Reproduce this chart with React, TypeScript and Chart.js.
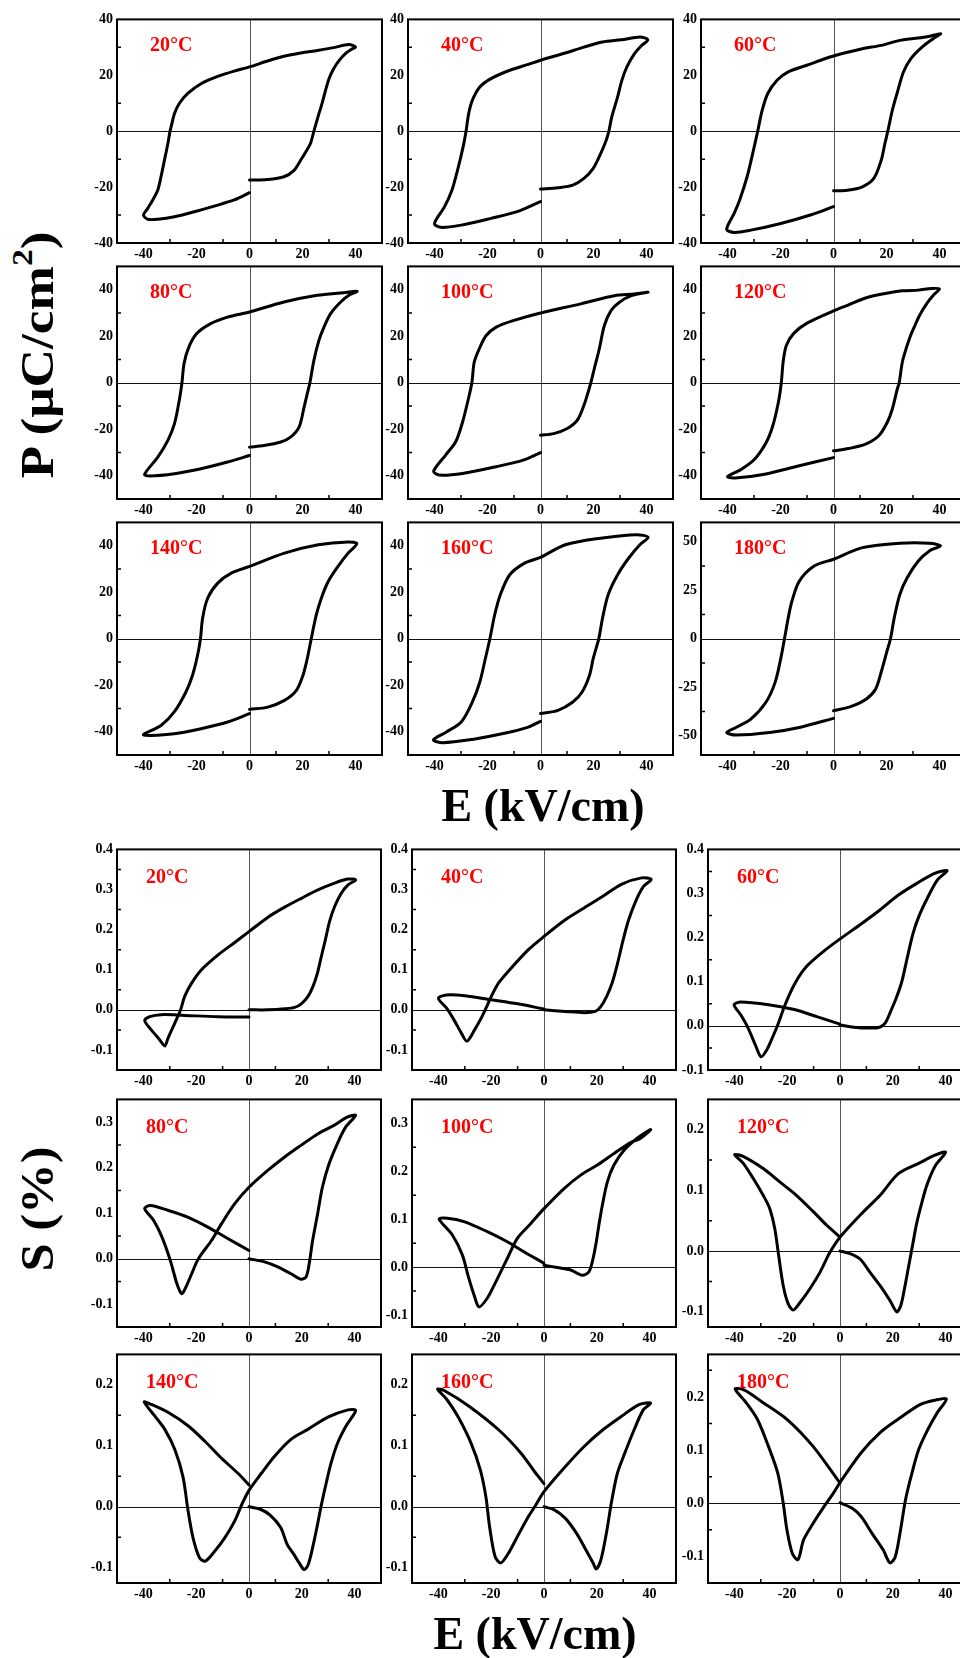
import React, { useEffect, useRef } from "react";
import { Chart, registerables } from "chart.js";
Chart.register(...registerables);

// ---------- tick labels ----------
const E_TICKS = [-40, -20, 0, 20, 40];
const P_TICKS = [-40, -20, 0, 20, 40];
const P180_TICKS = [-50, -25, 0, 25, 50];
const S_TICKS_04 = [-0.1, 0, 0.1, 0.2, 0.3, 0.4];
const S_TICKS_03 = [-0.1, 0, 0.1, 0.2, 0.3];
const S_TICKS_02 = [-0.1, 0, 0.1, 0.2];

const TEMPS = ["20°C", "40°C", "60°C", "80°C", "100°C", "120°C", "140°C", "160°C", "180°C"];

// y-axis limits per panel
const P_RANGES = [[-40, 40], [-40, 40], [-40, 40], [-50, 50], [-50, 50], [-50, 50], [-50, 50], [-50, 50], [-60, 60]];
const P_TICK_SETS = [P_TICKS, P_TICKS, P_TICKS, P_TICKS, P_TICKS, P_TICKS, P_TICKS, P_TICKS, P180_TICKS];
const S_RANGES = [[-0.15, 0.4], [-0.15, 0.4], [-0.1, 0.4], [-0.15, 0.35], [-0.125, 0.35], [-0.125, 0.25], [-0.125, 0.25], [-0.125, 0.25], [-0.15, 0.28]];
const S_TICK_SETS = [S_TICKS_04, S_TICKS_04, S_TICKS_04, S_TICKS_03, S_TICKS_03, S_TICKS_02, S_TICKS_02, S_TICKS_02, S_TICKS_02];

// ---------- P-E loops [E (kV/cm), P (uC/cm2)] ----------
const P20 = [[0,-17.5],[6.8,-17.3],[13,-16.3],[16.8,-14],[19.3,-10.4],[21.5,-7],[23,-4.4],[24.3,0],[26.2,6.3],[27,8.7],[28.7,14.6],[30,18.8],[31.8,22.4],[34,25.5],[36.5,28],[38.5,29.3],[40,30.1],
[37.5,31],[31.8,29.9],[25.6,28.9],[19.3,28],[13,26.8],[6.8,25.1],[0,23],[-5.8,21.5],[-12,19.6],[-18.3,17],[-23.3,13.5],[-26.5,9.9],[-28.3,6.3],[-29.6,1.5],[-30,0],[-30.8,-4.4],[-32.1,-10.4],[-33.4,-16.3],[-34.6,-21],[-36.5,-24.6],[-38.4,-27.6],[-40,-30],
[-38.4,-31.5],[-34.6,-31.5],[-28.3,-30.6],[-20.8,-28.8],[-13.3,-26.8],[-5.8,-24.6],[0,-22]];
const P40 = [[0,-20.7],[6.6,-20.2],[12.2,-19.3],[16.4,-16.9],[19.9,-13.3],[22.7,-8],[24.8,-3.2],[25.8,0],[26.9,5.1],[29.1,12.3],[30.7,18.2],[32.6,23],[35.4,27.7],[38.2,30.7],[40.5,32.7],
[37.5,33.7],[30.5,32.7],[23.4,31.9],[16.4,30.1],[9.4,28],[0,25.4],[-4.6,23.9],[-11.6,21.8],[-18.7,18.8],[-22.9,15.8],[-25.7,11.1],[-27.1,6.3],[-28.1,0],[-29.2,-5.6],[-31.3,-13.9],[-33.4,-21],[-36.2,-27],[-40,-33],
[-37.6,-34.4],[-29.9,-33.6],[-18.7,-31.2],[-8.8,-28.8],[0,-25.2]];
const P60 = [[0,-21.3],[5.3,-21.1],[10.9,-19.9],[15.2,-16.9],[18,-10.4],[19.4,-4.4],[20.5,0],[22.2,7.5],[24.3,14.6],[26.4,21.2],[29.2,26],[33.4,30.1],[37.6,33.1],[40.4,34.9],
[34.8,33.7],[25,32.5],[18,30.7],[10.9,29.5],[0,26.9],[-10.1,23.6],[-17.1,21.2],[-21.3,18.2],[-24.8,13.5],[-26.9,7.5],[-28.6,0],[-30.5,-8],[-32.6,-16.3],[-35.4,-24.6],[-37.5,-29.4],[-40.3,-35.1],
[-37.5,-36.2],[-31.2,-35.4],[-19.9,-33],[-8.7,-30],[0,-27]];
const P80 = [[0,-27.7],[5.5,-27],[11.8,-25.5],[15.5,-23.4],[18.7,-19.1],[20.6,-10.5],[21.8,-4.7],[22.8,0],[24.3,9.6],[26.2,18.2],[28.1,23.9],[30.6,29.7],[34.4,34.7],[37.5,37.6],[40.6,39.3],
[35.6,38.7],[25.6,37.6],[13,34.7],[0,30.4],[-8.3,28.2],[-15,25.2],[-20,21],[-23,15],[-24.7,8.2],[-25.5,0],[-26.5,-7.6],[-28.3,-17.6],[-30.8,-24.8],[-34.6,-32],[-39.6,-39.4],
[-37.7,-40.1],[-28.3,-39.1],[-18.3,-37],[-8.3,-34.1],[0,-31.3]];
const P100 = [[0,-22.6],[5,-21.9],[10.1,-19.7],[13.9,-16.1],[16.4,-9.7],[18,-4],[19,0],[20.3,6],[22.2,14.6],[24.1,24.6],[26.6,31],[29.8,34.6],[34.3,37.4],[40.6,38.9],
[35.5,38.1],[27.9,37.4],[15.2,33.9],[0,30],[-10.3,26.7],[-16.7,23.9],[-20.5,20.3],[-23.1,14.6],[-25,8.9],[-25.9,0],[-27.5,-8.3],[-29.4,-16.9],[-32,-25.4],[-35.8,-31.1],[-40.3,-38],
[-38.3,-39.7],[-29.4,-39],[-16.7,-36.1],[-6.5,-33.3],[0,-30.1]];
const P120 = [[0,-29.3],[5.7,-28.3],[12.1,-26.4],[17.1,-22.8],[20.3,-17],[22.2,-11.3],[24.1,-2.6],[24.8,0],[26,9],[27.5,15],[29,20],[30.5,24],[32.5,29],[35.5,34.5],[38,38],[40,40.3],
[37,40.5],[32,39.8],[26,39.5],[18.4,38.1],[12.1,36.4],[5.7,33.5],[0,30.9],[-10,25.6],[-15,21.2],[-17.8,16],[-19,9],[-19.7,0],[-20.8,-8.4],[-22.9,-18.5],[-25.4,-25.7],[-29.8,-32.9],[-34.9,-37.3],[-40,-40.4],
[-36.2,-40.9],[-26,-39.4],[-13.3,-35.8],[0,-32.2]];
const P140 = [[0,-30.4],[6.9,-29.4],[13.2,-26.5],[17.7,-22.2],[20.2,-15.7],[21.8,-8.5],[23.3,0],[25.2,10.2],[27.1,17.4],[29.7,24.6],[33.4,31.1],[37.2,36.8],[40.5,40.8],
[37.2,41.6],[25.9,40.4],[13.2,36.8],[0,31.1],[-6.9,28.2],[-12,23.9],[-15.8,17.4],[-17.7,8.8],[-18.5,0],[-19.6,-7.1],[-21.5,-15.7],[-24,-22.9],[-28.4,-31.5],[-33.4,-37.3],[-40,-41.2],
[-37.2,-41.6],[-28.4,-40.9],[-18.3,-38.7],[-8.2,-35.8],[0,-32.2]];
const P160 = [[0,-32.2],[6.6,-30.8],[12.2,-27.2],[15.7,-22.9],[18.5,-15.7],[19.9,-8.5],[22,0],[23.4,8.8],[25.5,18.8],[29.1,27.5],[33.3,34.7],[37.5,40.4],[40.6,43.6],
[36.1,44.7],[23.4,43.3],[9.4,40.4],[0,35],[-6,32.5],[-11.6,27.5],[-15.2,18.8],[-17.3,10.2],[-19.1,0],[-20.8,-8.5],[-22.9,-18.6],[-25.7,-27.2],[-29.9,-35.8],[-35.5,-40.1],[-40.4,-43.5],
[-36.9,-44.7],[-25.7,-43.3],[-14.5,-40.9],[-4.6,-38],[0,-35.5]];
const P180 = [[0,-37.2],[6.7,-34.9],[12.4,-31.1],[15.9,-25.9],[18,-17.2],[20.1,-6.8],[21.5,0],[22.9,10.6],[25,22.7],[27.8,31.4],[32,40.1],[36.2,45.3],[40.4,47.9],
[36.2,49.3],[25,49.3],[10.9,47],[0,41],[-7.3,37.5],[-12.9,29.7],[-15.7,19.3],[-17.1,10.6],[-18.5,0],[-19.9,-10.2],[-22,-22.4],[-25.5,-32.8],[-31.2,-41.5],[-36.8,-45.8],[-40.3,-48.4],
[-36.8,-49.7],[-24.1,-48.4],[-12.9,-45.8],[0,-41.1]];

// ---------- S-E loops [E (kV/cm), S (%)] ----------
const S20 = [[0,0],[7.2,0],[13.5,0.0025],[17.3,0.006],[19.8,0.015],[22.3,0.033],[24.2,0.058],[25.9,0.091],[27.4,0.133],[28.9,0.174],[30.5,0.22],[32.4,0.257],[34.9,0.29],[37.4,0.311],[40.4,0.324],
[37.4,0.326],[32.4,0.316],[26.1,0.299],[19.8,0.278],[13.5,0.256],[7.2,0.231],[0,0.195],[-5.4,0.168],[-11.7,0.137],[-18,0.1],[-21.8,0.066],[-24.4,0.033],[-25.9,0],[-28.1,-0.033],[-30.7,-0.071],[-31.9,-0.09],[-33.8,-0.075],[-37,-0.05],[-39.5,-0.027],
[-37.6,-0.017],[-33.2,-0.012],[-24.4,-0.014],[-11.7,-0.017],[0,-0.018]];
const S40 = [[0,0],[8.2,-0.004],[15.2,-0.007],[19.4,-0.004],[21.5,0.008],[23.7,0.033],[25.8,0.067],[27.9,0.117],[30,0.175],[32.1,0.225],[35,0.275],[37.7,0.308],[40.6,0.325],
[37,0.329],[29.3,0.313],[22.3,0.283],[15.2,0.254],[8.2,0.225],[0,0.183],[-5.9,0.15],[-13,0.1],[-17.2,0.067],[-20,0.033],[-21.4,0.0125],[-23.5,-0.017],[-26.3,-0.05],[-29.2,-0.078],[-31.3,-0.058],[-34.1,-0.025],[-36.9,0.004],[-40,0.029],
[-36.9,0.037],[-29.9,0.035],[-20,0.025],[-10.1,0.015],[0,0.002]];
const S60 = [[0,0.002],[5.2,-0.003],[10.8,-0.005],[15,-0.003],[17.1,0.006],[19.2,0.033],[21.3,0.063],[23.4,0.1],[25.5,0.155],[27.6,0.208],[29.8,0.247],[33.3,0.292],[36.8,0.33],[40.6,0.352],
[36.1,0.346],[29.1,0.323],[22,0.296],[15,0.262],[8,0.231],[0,0.197],[-6,0.17],[-13.1,0.132],[-17.3,0.094],[-20.8,0.048],[-23.6,0.002],[-25.7,-0.028],[-27.8,-0.055],[-29.9,-0.07],[-32,-0.044],[-34.8,-0.005],[-37.6,0.025],[-40.1,0.048],
[-37.6,0.054],[-27.1,0.048],[-17.3,0.037],[-8.8,0.021],[0,0.004]];
const S80 = [[0,0],[5.9,-0.007],[10.9,-0.018],[15.9,-0.033],[19.7,-0.045],[21.6,-0.04],[22.8,-0.011],[24.1,0.04],[26,0.099],[27.8,0.157],[30.3,0.208],[33.4,0.252],[36.6,0.289],[40.4,0.315],
[37.2,0.311],[32.2,0.293],[26,0.274],[19.7,0.249],[13.4,0.223],[7.1,0.194],[0,0.157],[-5.4,0.121],[-10.4,0.077],[-14.2,0.04],[-17.9,0.011],[-19.8,-0.007],[-21.7,-0.033],[-24.2,-0.066],[-25.5,-0.077],[-27.3,-0.055],[-29.8,-0.004],[-33,0.048],[-36.1,0.084],[-39.5,0.11],
[-37.4,0.117],[-30.5,0.106],[-23,0.091],[-15.4,0.069],[-7.9,0.044],[0,0.018]];
const S100 = [[0,0.004],[5,-0.001],[10.1,-0.006],[14.5,-0.017],[17,-0.01],[18.3,0.011],[19.6,0.046],[20.8,0.088],[22.1,0.129],[24,0.178],[26.5,0.213],[30.3,0.244],[35.3,0.269],[40.4,0.287],
[36.6,0.269],[32.8,0.26],[26.5,0.237],[20.2,0.213],[13.9,0.192],[7.6,0.164],[0,0.122],[-5,0.091],[-10.1,0.06],[-13.9,0.018],[-16.4,-0.01],[-18.9,-0.038],[-21.5,-0.065],[-24.6,-0.083],[-26.5,-0.058],[-28.8,-0.017],[-30.9,0.025],[-34.7,0.067],[-39.7,0.1],
[-36.6,0.102],[-30.3,0.095],[-21.5,0.074],[-13.9,0.053],[-7.6,0.032],[0,0.008]];
const S120 = [[0,0],[3.8,-0.004],[7.6,-0.013],[11.4,-0.035],[15.2,-0.057],[19,-0.082],[21.5,-0.1],[23,-0.09],[24.5,-0.06],[26,-0.025],[27.5,0.01],[29,0.045],[31,0.08],[33,0.11],[36,0.14],[40,0.163],
[36,0.158],[30,0.145],[22.2,0.128],[15.2,0.092],[8.9,0.065],[0,0.023],[-3.8,-0.002],[-7.6,-0.035],[-11.4,-0.062],[-15.2,-0.085],[-17.7,-0.097],[-19.6,-0.087],[-21.5,-0.057],[-23.4,-0.002],[-24.7,0.037],[-26.6,0.07],[-29.1,0.092],[-32.9,0.12],[-36.7,0.145],[-39.9,0.159],
[-36.7,0.156],[-29.1,0.136],[-22.8,0.114],[-16.5,0.092],[-10.1,0.065],[-5.1,0.043],[0,0.023]];
const S140 = [[0,0],[4.3,-0.004],[8.1,-0.014],[12,-0.034],[14.5,-0.062],[17,-0.078],[19,-0.092],[20.9,-0.103],[22.4,-0.095],[24.1,-0.067],[26,-0.028],[27.5,0.005],[29.2,0.038],[31.1,0.072],[33.6,0.105],[36.8,0.133],[40.4,0.158],
[37.5,0.159],[29.9,0.147],[22.3,0.127],[16,0.111],[9.7,0.083],[4.7,0.055],[0,0.027],[-2.6,0.005],[-5.4,-0.023],[-9.2,-0.051],[-13,-0.073],[-16.5,-0.089],[-18.7,-0.084],[-21.2,-0.051],[-23.1,-0.006],[-25,0.049],[-28.1,0.094],[-31.9,0.127],[-35.7,0.149],[-39.7,0.172],
[-37.6,0.169],[-30.7,0.155],[-23.1,0.133],[-16.8,0.108],[-10.5,0.08],[-4.2,0.055],[0,0.036]];
const S160 = [[0,0],[3.9,-0.005],[8.1,-0.019],[12.4,-0.044],[15.9,-0.071],[18.7,-0.093],[19.8,-0.102],[21.5,-0.088],[23.6,-0.044],[25.7,0.011],[27.8,0.055],[30.6,0.088],[34.1,0.126],[37.6,0.159],[40.4,0.17],
[36.2,0.168],[29.2,0.148],[22.2,0.126],[15.2,0.099],[8.1,0.066],[0,0.025],[-3.1,0.003],[-5.9,-0.016],[-10.1,-0.049],[-13.6,-0.077],[-16.4,-0.092],[-18.5,-0.082],[-20.6,-0.033],[-22,0.016],[-24.1,0.06],[-27.6,0.104],[-32.6,0.148],[-36.8,0.176],[-40.3,0.193],
[-37.5,0.19],[-28.4,0.165],[-17.1,0.126],[-8.7,0.088],[-3.1,0.055],[0,0.038]];
const S180 = [[0,0.001],[4.5,-0.009],[8,-0.025],[12.2,-0.057],[16.4,-0.088],[18.9,-0.112],[20.9,-0.101],[22.7,-0.057],[24.8,0.006],[26.9,0.05],[29.8,0.101],[33.3,0.139],[36.8,0.17],[40.3,0.196],
[36.1,0.194],[30.5,0.186],[22,0.158],[15,0.132],[8,0.095],[0,0.039],[-2.5,0.019],[-6,-0.006],[-10.2,-0.038],[-13.8,-0.069],[-15.9,-0.106],[-18,-0.095],[-20.1,-0.05],[-21.5,0],[-23.6,0.057],[-27.1,0.107],[-31.3,0.158],[-35.5,0.189],[-39.7,0.215],
[-36.2,0.213],[-29.9,0.192],[-20.1,0.158],[-10.2,0.107],[0,0.038]];

const P_SERIES = [P20, P40, P60, P80, P100, P120, P140, P160, P180];
const S_SERIES = [S20, S40, S60, S80, S100, S120, S140, S160, S180];

// ---------- layout (page pixels) ----------
const P_COL_X = [117, 408, 701];
const P_ROW_Y = [19, 266, 522];
const P_ROW_H = [224, 233, 233];
const P_W = 265;
const S_COL_X = [117, 412, 708];
const S_ROW_Y = [849, 1099, 1354];
const S_ROW_H = [221, 228, 229];
const S_W = 264;

const PAD_L = 50, PAD_T = 12, PAD_R = 12, PAD_B = 28;
const SERIF = '"Liberation Serif", "Times New Roman", serif';

function minorTicks(majors: number[], min: number, max: number) {
  const step = majors[1] - majors[0];
  const out: number[] = [];
  for (let v = majors[0] - step / 2; v < max - 1e-9; v += step) {
    if (v > min + 1e-9) out.push(v);
  }
  return out;
}

const decoPlugin = {
  id: "deco",
  beforeDatasetsDraw(chart: any) {
    const { ctx, chartArea: a, scales } = chart;
    const x0 = Math.round(scales.x.getPixelForValue(0)) + 0.5;
    const y0 = Math.round(scales.y.getPixelForValue(0)) + 0.5;
    ctx.save();
    ctx.lineWidth = 1;
    ctx.strokeStyle = "#555";
    ctx.beginPath(); ctx.moveTo(x0, a.top); ctx.lineTo(x0, a.bottom); ctx.stroke();
    ctx.strokeStyle = "#111";
    ctx.beginPath(); ctx.moveTo(a.left, y0); ctx.lineTo(a.right, y0); ctx.stroke();
    ctx.restore();
  },
  afterDatasetsDraw(chart: any, _a: any, opts: any) {
    const { ctx, chartArea: a, scales } = chart;
    ctx.save();
    ctx.strokeStyle = "#000";
    ctx.lineWidth = 1.5;
    ctx.beginPath();
    (opts.xMinor || []).forEach((v: number) => {
      const x = scales.x.getPixelForValue(v);
      ctx.moveTo(x, a.bottom); ctx.lineTo(x, a.bottom - 4);
    });
    (opts.yMinor || []).forEach((v: number) => {
      const y = scales.y.getPixelForValue(v);
      ctx.moveTo(a.left, y); ctx.lineTo(a.left + 4, y);
    });
    ctx.stroke();
    ctx.lineWidth = 2;
    ctx.strokeRect(a.left, a.top, a.right - a.left, a.bottom - a.top);
    ctx.fillStyle = "#ff0000";
    ctx.font = `bold 20px ${SERIF}`;
    ctx.textAlign = "left";
    ctx.textBaseline = "middle";
    ctx.fillText(opts.label, a.left + opts.offX, a.top + opts.offY);
    ctx.restore();
  },
};

type Spec = {
  id: string; data: number[][]; label: string; yMin: number; yMax: number; yTicks: number[];
  dec: number; left: number; top: number; width: number; height: number; offX: number; offY: number;
};

function Panel({ spec }: { spec: Spec }) {
  const ref = useRef<HTMLCanvasElement | null>(null);
  const cw = PAD_L + spec.width + PAD_R;
  const ch = PAD_T + spec.height + PAD_B;
  useEffect(() => {
    const c = ref.current;
    if (!c) return;
    const tickFont = { family: SERIF, size: 14, weight: "bold" as const };
    const chart = new Chart(c, {
      type: "scatter",
      data: {
        datasets: [{
          data: spec.data.map(([x, y]) => ({ x, y })),
          showLine: true,
          borderColor: "#000",
          backgroundColor: "#000",
          borderWidth: 3,
          pointRadius: 0,
          tension: 0.3,
          borderJoinStyle: "round",
          borderCapStyle: "round",
        } as any],
      },
      options: {
        animation: false,
        responsive: false,
        maintainAspectRatio: false,
        events: [],
        layout: { padding: { left: 0, top: PAD_T, right: PAD_R, bottom: 0 } },
        plugins: {
          legend: { display: false },
          tooltip: { enabled: false },
          deco: {
            label: spec.label, offX: spec.offX, offY: spec.offY,
            xMinor: minorTicks(E_TICKS, -50, 50),
            yMinor: minorTicks(spec.yTicks, spec.yMin, spec.yMax),
          },
        } as any,
        scales: {
          x: {
            type: "linear", min: -50, max: 50,
            afterFit: (s: any) => { s.height = PAD_B; },
            afterBuildTicks: (ax: any) => { ax.ticks = E_TICKS.map((v) => ({ value: v })); },
            grid: { display: false, drawTicks: false },
            border: { display: false },
            ticks: { font: tickFont, color: "#000", padding: 3, maxRotation: 0, autoSkip: false, callback: (v: any) => String(v) },
          },
          y: {
            type: "linear", min: spec.yMin, max: spec.yMax,
            afterFit: (s: any) => { s.width = PAD_L; },
            afterBuildTicks: (ax: any) => { ax.ticks = spec.yTicks.map((v) => ({ value: v })); },
            grid: { display: false, drawTicks: false },
            border: { display: false },
            ticks: {
              font: tickFont, color: "#000", padding: 4, autoSkip: false,
              callback: (v: any) => (spec.dec ? Number(v).toFixed(spec.dec) : String(Math.round(Number(v)))),
            },
          },
        },
      } as any,
      plugins: [decoPlugin],
    });
    return () => chart.destroy();
  }, [spec]);
  return (
    <canvas
      ref={ref}
      width={cw}
      height={ch}
      style={{ position: "absolute", left: spec.left - PAD_L, top: spec.top - PAD_T, width: cw, height: ch }}
    />
  );
}

const SPECS: Spec[] = [];
for (let i = 0; i < 9; i++) {
  const r = Math.floor(i / 3), c = i % 3;
  SPECS.push({
    id: "P" + i, data: P_SERIES[i], label: TEMPS[i], yMin: P_RANGES[i][0], yMax: P_RANGES[i][1],
    yTicks: P_TICK_SETS[i], dec: 0, left: P_COL_X[c], top: P_ROW_Y[r], width: P_W, height: P_ROW_H[r],
    offX: 33, offY: 26,
  });
}
for (let i = 0; i < 9; i++) {
  const r = Math.floor(i / 3), c = i % 3;
  SPECS.push({
    id: "S" + i, data: S_SERIES[i], label: TEMPS[i], yMin: S_RANGES[i][0], yMax: S_RANGES[i][1],
    yTicks: S_TICK_SETS[i], dec: 1, left: S_COL_X[c], top: S_ROW_Y[r], width: S_W, height: S_ROW_H[r],
    offX: 29, offY: 28,
  });
}

const titleFont: React.CSSProperties = {
  position: "absolute",
  font: `bold 46px ${SERIF}`,
  lineHeight: "46px",
  whiteSpace: "nowrap",
  color: "#000",
};

export default function App() {
  return (
    <div style={{ position: "absolute", left: 0, top: 0, width: 960, height: 1658, overflow: "hidden", background: "#fff" }}>
      {SPECS.map((s) => <Panel key={s.id} spec={s} />)}
      <div style={{ ...titleFont, left: 38, top: 355, transform: "translate(-50%, -50%) rotate(-90deg) scaleX(1.16)" }}>
        P (μC/cm<span style={{ fontSize: 29, position: "relative", top: -21, lineHeight: 0 }}>2</span>)
      </div>
      <div style={{ ...titleFont, left: 38, top: 1209, transform: "translate(-50%, -50%) rotate(-90deg) scaleX(1.1)" }}>
        S (%)
      </div>
      <div style={{ ...titleFont, left: 543, top: 783, transform: "translateX(-50%)" }}>E (kV/cm)</div>
      <div style={{ ...titleFont, left: 535, top: 1611, transform: "translateX(-50%)" }}>E (kV/cm)</div>
    </div>
  );
}
